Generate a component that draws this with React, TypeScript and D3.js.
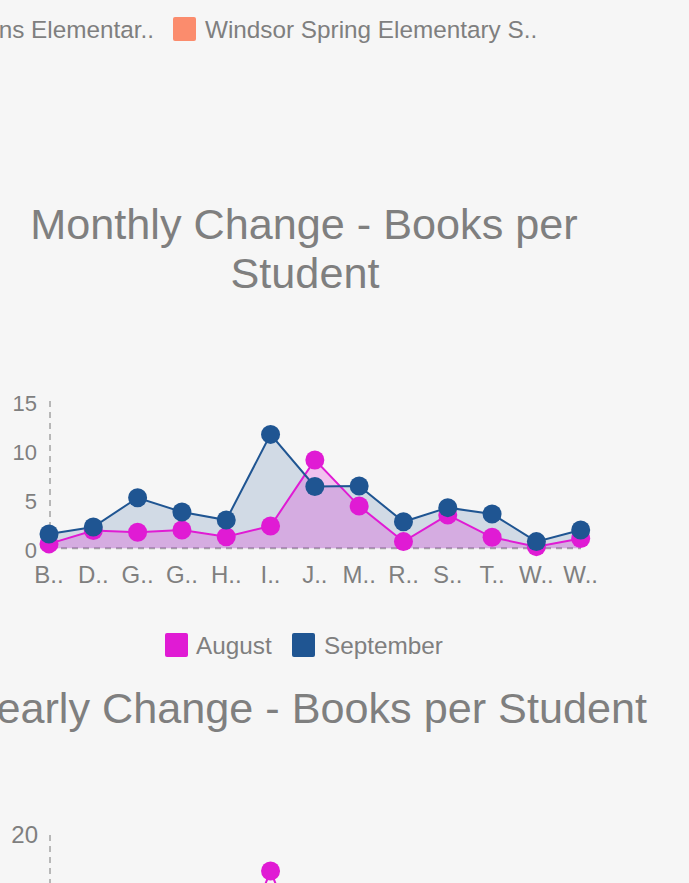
import React from "react";
import * as d3 from "d3";

const categories = ["B..", "D..", "G..", "G..", "H..", "I..", "J..", "M..", "R..", "S..", "T..", "W..", "W.."];
const august = [0.45, 1.8, 1.63, 1.86, 1.18, 2.27, 9.0, 4.3, 0.68, 3.4, 1.12, 0.17, 1.0];
const september = [1.46, 2.17, 5.15, 3.7, 2.88, 11.6, 6.3, 6.34, 2.7, 4.14, 3.49, 0.68, 1.86];
const monthlyTicks = [0, 5, 10, 15];
const yearlyTicks = [20];
const yearlyAugust = [null, null, null, null, 0, 15.1, 0, null, null, null, null, null, null];
const seriesNames = ["August", "September"];
const schoolLegend = ["Wilkinson Gardens Elementar..", "Windsor Spring Elementary S.."];

const PINK = "#e01bd4";
const BLUE = "#1f5592";
const TEXT = "#7f7f7f";
const AXIS = "#a8a8a8";
const FONT = "'Liberation Sans', Arial, sans-serif";

export default function App() {
  const idx = categories.map((_, i) => i);
  const x = d3.scalePoint<number>().domain(idx).range([49, 580.7]);
  const y = d3.scaleLinear().domain([0, 15]).range([548.3, 401]);
  const y2 = d3.scaleLinear().domain([0, 20]).range([982, 835]);

  const area = (vals: number[]) =>
    d3.area<number>().x((_, i) => x(i)!).y0(y(0)).y1((d) => y(d))(vals) || "";
  const line = (vals: number[]) =>
    d3.line<number>().x((_, i) => x(i)!).y((d) => y(d))(vals) || "";
  const line2 =
    d3
      .line<number | null>()
      .defined((d) => d !== null)
      .x((_, i) => x(i)!)
      .y((d) => y2(d as number))(yearlyAugust) || "";

  return (
    <svg
      width={689}
      height={883}
      style={{ position: "absolute", left: 0, top: 0, background: "#f6f6f6" }}
      fontFamily={FONT}
    >
      <rect x={0} y={0} width={689} height={883} fill="#f6f6f6" />

      {/* top legend (previous chart) */}
      <text x={154} y={38} fontSize={24.3} fill={TEXT} textAnchor="end">
        {schoolLegend[0]}
      </text>
      <rect x={173} y={17} width={23} height={24} rx={2} fill="#fb8c6d" />
      <text x={205} y={38} fontSize={24.3} fill={TEXT}>
        {schoolLegend[1]}
      </text>

      {/* monthly title */}
      <text x={304} y={239} fontSize={43.2} fill={TEXT} textAnchor="middle">
        Monthly Change - Books per
      </text>
      <text x={305} y={288} fontSize={43.2} fill={TEXT} textAnchor="middle">
        Student
      </text>

      {/* axes */}
      <line x1={50} x2={50} y1={401} y2={548.3} stroke={AXIS} strokeWidth={1.6} strokeDasharray="6,5" />
      <line x1={50} x2={581} y1={548.3} y2={548.3} stroke={AXIS} strokeWidth={2} strokeDasharray="6,5" />
      {monthlyTicks.map((t) => (
        <text key={t} x={37} y={y(t) + 9.5} fontSize={22} fill={TEXT} textAnchor="end">
          {t}
        </text>
      ))}
      {categories.map((c, i) => (
        <text key={i} x={x(i)} y={583} fontSize={24} fill={TEXT} textAnchor="middle">
          {c}
        </text>
      ))}

      {/* areas */}
      <path d={area(september)} fill={BLUE} fillOpacity={0.17} />
      <path d={area(august)} fill={PINK} fillOpacity={0.24} />
      <path d={line(august)} fill="none" stroke={PINK} strokeWidth={2} />
      <path d={line(september)} fill="none" stroke={BLUE} strokeWidth={2} />
      {august.map((v, i) => (
        <circle key={"a" + i} cx={x(i)} cy={y(v)} r={9.5} fill={PINK} />
      ))}
      {september.map((v, i) => (
        <circle key={"s" + i} cx={x(i)} cy={y(v)} r={9.5} fill={BLUE} />
      ))}

      {/* bottom legend */}
      <rect x={165} y={633} width={23} height={24} rx={2} fill={PINK} />
      <text x={196} y={654} fontSize={24.3} fill={TEXT}>
        {seriesNames[0]}
      </text>
      <rect x={292} y={633} width={23} height={24} rx={2} fill={BLUE} />
      <text x={324} y={654} fontSize={24.3} fill={TEXT}>
        {seriesNames[1]}
      </text>

      {/* yearly title */}
      <text x={647} y={723} fontSize={43.2} fill={TEXT} textAnchor="end">
        Yearly Change - Books per Student
      </text>
      <line x1={50} x2={50} y1={y2(20)} y2={883} stroke={AXIS} strokeWidth={1.6} strokeDasharray="6,5" />
      {yearlyTicks.map((t) => (
        <text key={t} x={38} y={y2(t) + 8} fontSize={24} fill={TEXT} textAnchor="end">
          {t}
        </text>
      ))}
      <path d={line2} fill="none" stroke={PINK} strokeWidth={2} />
      {yearlyAugust.map((v, i) =>
        v === null ? null : <circle key={"y" + i} cx={x(i)} cy={y2(v)} r={9.5} fill={PINK} />
      )}
    </svg>
  );
}
